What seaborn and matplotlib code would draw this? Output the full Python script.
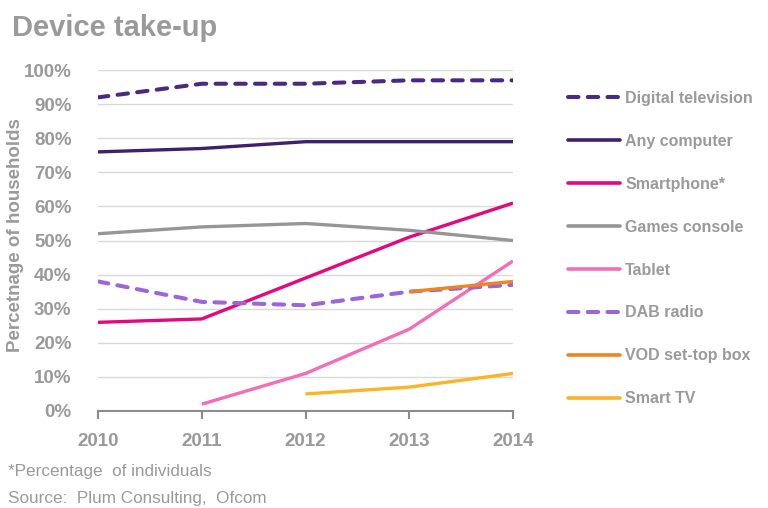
import matplotlib
matplotlib.use("Agg")
import matplotlib.pyplot as plt
from matplotlib.lines import Line2D
import seaborn as sns
import pandas as pd

years = [2010, 2011, 2012, 2013, 2014]
series_names = ["Digital television", "Any computer", "Smartphone*", "Games console",
                "Tablet", "DAB radio", "VOD set-top box", "Smart TV"]
digital_tv = [92, 96, 96, 97, 97]
any_computer = [76, 77, 79, 79, 79]
smartphone = [26, 27, 39, 51, 61]
games_console = [52, 54, 55, 53, 50]
tablet = [None, 2, 11, 24, 44]
dab_radio = [38, 32, 31, 35, 37]
vod_box = [None, None, None, 35, 38]
smart_tv = [None, None, 5, 7, 11]
y_ticks = list(range(0, 101, 10))

values = [digital_tv, any_computer, smartphone, games_console, tablet, dab_radio, vod_box, smart_tv]
colors = ["#4B2882", "#3F1F6E", "#E6077F", "#969696", "#F46DB5", "#9A66D8", "#F0841F", "#FCB326"]
dashed = {"Digital television", "DAB radio"}

rows = []
for name, vals in zip(series_names, values):
    for yr, v in zip(years, vals):
        if v is not None:
            rows.append({"Year": yr, "Value": v / 100.0, "Series": name})
df = pd.DataFrame(rows)

sns.set_theme(style="white")
plt.rcParams["font.family"] = ["Liberation Sans", "DejaVu Sans"]

GRAY = "#9A9A9A"
fig = plt.figure(figsize=(7.68, 5.08), dpi=100)
ax = fig.add_axes([0.1276, 0.191, 0.668 - 0.1276, 0.671])

palette = dict(zip(series_names, colors))
DASH = (2.6, 2.3)
dash_map = {n: (DASH if n in dashed else "") for n in series_names}
sns.lineplot(data=df, x="Year", y="Value", hue="Series", style="Series",
             hue_order=series_names, style_order=series_names,
             palette=palette, dashes=dash_map, linewidth=2.4, ax=ax, legend=False)
for ln, n in zip(ax.get_lines(), series_names):
    ln.set_dash_capstyle("round")
    ln.set_solid_capstyle("butt")
    if n in dashed:
        ln.set_linewidth(2.9)

ax.set_xlim(2010, 2014)
ax.set_ylim(0, 1.0)
ax.set_xticks(years)
ax.set_xticklabels([str(y) for y in years])
ax.set_yticks([t / 100 for t in y_ticks])
ax.set_yticklabels([f"{t}%" for t in y_ticks])
ax.grid(axis="y", color="#D9D9D9", linewidth=1.0)
ax.set_axisbelow(True)
for s in ["top", "right", "left"]:
    ax.spines[s].set_visible(False)
ax.spines["bottom"].set_color("#8C8C8C")
ax.spines["bottom"].set_linewidth(1.5)
ax.tick_params(axis="x", direction="out", length=6, width=1.5, color="#8C8C8C",
               labelsize=13.5, labelcolor=GRAY, pad=10, bottom=True)
ax.tick_params(axis="y", length=0, labelsize=13.5, labelcolor=GRAY, pad=19)
for lab in ax.get_xticklabels() + ax.get_yticklabels():
    lab.set_fontweight("bold")
ax.set_xlabel("")
ax.set_ylabel("Percetnage of households", fontsize=13.5, fontweight="bold", color=GRAY)
ax.yaxis.set_label_coords(-0.178, 0.515)

handles = []
for n, c in zip(series_names, colors):
    if n in dashed:
        h = Line2D([0], [0], color=c, linewidth=2.9, linestyle=(0, DASH), dash_capstyle="round")
    else:
        h = Line2D([0], [0], color=c, linewidth=2.6, linestyle="-")
    handles.append(h)
leg = fig.legend(handles, series_names, loc="upper left", bbox_to_anchor=(0.7318, 0.834),
                 frameon=False, fontsize=11.5, handlelength=3.25, labelspacing=1.75,
                 handletextpad=0.3, borderaxespad=0)
for t in leg.get_texts():
    t.set_color(GRAY)
    t.set_fontweight("bold")

fig.text(0.016, 0.945, "Device take-up", fontsize=21, fontweight="bold", color=GRAY, va="center")
fig.text(0.010, 0.072, "*Percentage  of individuals", fontsize=12.3, color=GRAY, va="center")
fig.text(0.010, 0.018, "Source:  Plum Consulting,  Ofcom", fontsize=12.3, color=GRAY, va="center")

fig.savefig("out.png", dpi=100)
